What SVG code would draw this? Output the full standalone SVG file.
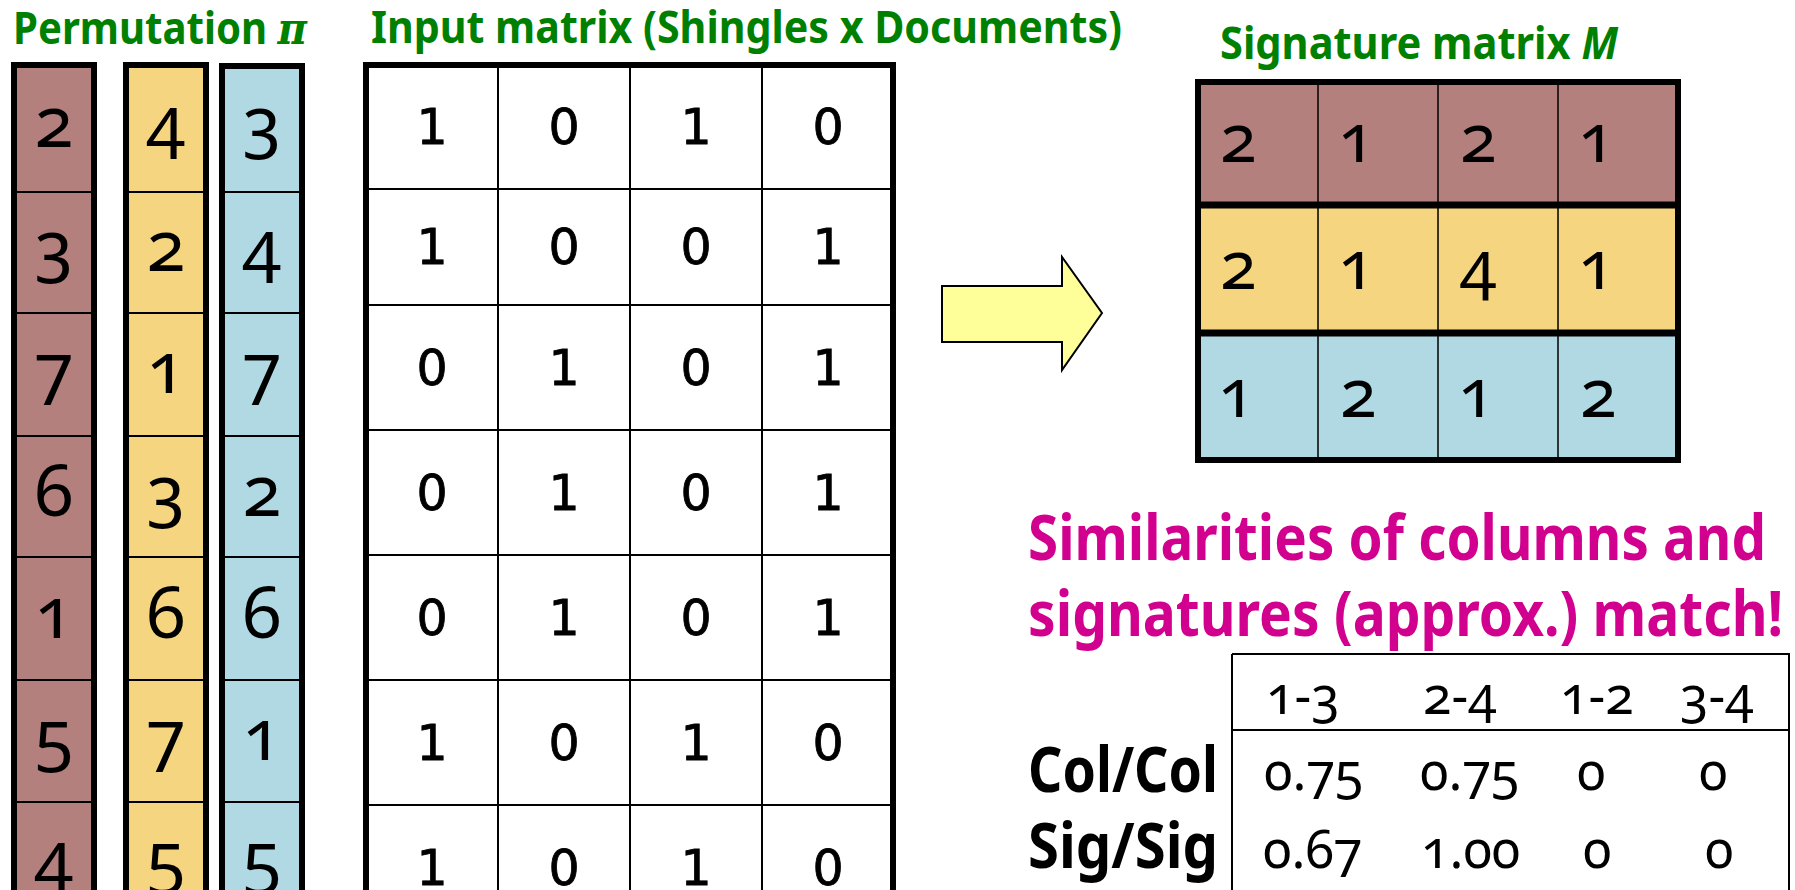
<svg xmlns="http://www.w3.org/2000/svg" width="1795" height="890" viewBox="0 0 1795 890">
<style>
.title{font-family:"Noto Sans","DejaVu Sans",sans-serif;font-weight:bold;fill:#008000;font-size:45px}
.pink{font-family:"Noto Sans","DejaVu Sans",sans-serif;font-weight:bold;fill:#D1008F;font-size:63px}
.lbl{font-family:"Noto Sans","DejaVu Sans",sans-serif;font-weight:bold;fill:#000;font-size:63px}
.pd{font-family:"Noto Sans","DejaVu Sans",sans-serif;font-size:71px;fill:#000;text-anchor:middle;font-variant-numeric:oldstyle-nums}
.sd{font-family:"Noto Sans","DejaVu Sans",sans-serif;font-size:67px;fill:#000;font-variant-numeric:oldstyle-nums}
.md{font-family:"DejaVu Sans",sans-serif;font-size:49px;fill:#000;stroke:#000;stroke-width:0.8;text-anchor:middle}
.td{font-family:"Noto Sans","DejaVu Sans",sans-serif;font-size:52px;fill:#000;font-variant-numeric:oldstyle-nums}
.thick{fill:none;stroke:#000;stroke-width:6}
.thin{stroke:#000;stroke-width:2;fill:none}
.brown{fill:#B4807E}
.yellow{fill:#F6D580}
.blue{fill:#B0D9E4}
</style>

<!-- Titles -->
<text class="title" x="13" y="44" textLength="294" lengthAdjust="spacingAndGlyphs">Permutation <tspan font-family="'DejaVu Serif',serif" font-style="italic">π</tspan></text>
<text class="title" x="371" y="43" textLength="751" lengthAdjust="spacingAndGlyphs">Input matrix (Shingles x Documents)</text>
<text class="title" x="1220" y="59" textLength="398" lengthAdjust="spacingAndGlyphs">Signature matrix <tspan font-style="italic">M</tspan></text>

<!-- Permutation columns -->
<g id="perm1">
  <rect class="brown" x="14" y="65" width="80" height="840"/>
  <path class="thin" d="M17 192H91M17 313H91M17 436H91M17 557H91M17 680H91M17 802H91"/>
  <rect class="thick" x="14" y="65" width="80" height="840"/>
  <text class="pd" x="54" y="147">2</text>
  <text class="pd" x="54" y="271">3</text>
  <text class="pd" x="54" y="393">7</text>
  <text class="pd" x="54" y="516">6</text>
  <text class="pd" x="54" y="638">1</text>
  <text class="pd" x="54" y="760">5</text>
  <text class="pd" x="54" y="882">4</text>
</g>
<g id="perm2">
  <rect class="yellow" x="126" y="65" width="80" height="840"/>
  <path class="thin" d="M129 192H203M129 313H203M129 436H203M129 557H203M129 680H203M129 802H203"/>
  <rect class="thick" x="126" y="65" width="80" height="840"/>
  <text class="pd" x="166" y="147">4</text>
  <text class="pd" x="166" y="271">2</text>
  <text class="pd" x="166" y="393">1</text>
  <text class="pd" x="166" y="516">3</text>
  <text class="pd" x="166" y="638">6</text>
  <text class="pd" x="166" y="760">7</text>
  <text class="pd" x="166" y="882">5</text>
</g>
<g id="perm3">
  <rect class="blue" x="222" y="66" width="80" height="840"/>
  <path class="thin" d="M225 192H299M225 313H299M225 436H299M225 557H299M225 680H299M225 802H299"/>
  <rect class="thick" x="222" y="66" width="80" height="840"/>
  <text class="pd" x="262" y="147">3</text>
  <text class="pd" x="262" y="271">4</text>
  <text class="pd" x="262" y="393">7</text>
  <text class="pd" x="262" y="516">2</text>
  <text class="pd" x="262" y="638">6</text>
  <text class="pd" x="262" y="760">1</text>
  <text class="pd" x="262" y="882">5</text>
</g>

<!-- Input matrix -->
<g id="input-matrix">
  <rect x="366" y="65" width="527" height="860" fill="#fff"/>
  <path class="thin" d="M498 65V890M630 65V890M762 65V890M366 189H893M366 305H893M366 430H893M366 555H893M366 680H893M366 805H893"/>
  <rect class="thick" x="366" y="65" width="527" height="860"/>
  <g class="md">
    <text x="432" y="144">1</text><text x="564" y="144">0</text><text x="696" y="144">1</text><text x="828" y="144">0</text>
    <text x="432" y="264">1</text><text x="564" y="264">0</text><text x="696" y="264">0</text><text x="828" y="264">1</text>
    <text x="432" y="385">0</text><text x="564" y="385">1</text><text x="696" y="385">0</text><text x="828" y="385">1</text>
    <text x="432" y="510">0</text><text x="564" y="510">1</text><text x="696" y="510">0</text><text x="828" y="510">1</text>
    <text x="432" y="635">0</text><text x="564" y="635">1</text><text x="696" y="635">0</text><text x="828" y="635">1</text>
    <text x="432" y="760">1</text><text x="564" y="760">0</text><text x="696" y="760">1</text><text x="828" y="760">0</text>
    <text x="432" y="885">1</text><text x="564" y="885">0</text><text x="696" y="885">1</text><text x="828" y="885">0</text>
  </g>
</g>

<!-- Arrow -->
<g id="arrow">
  <polygon points="942,286 1062,286 1062,257 1102,313 1062,370 1062,342 942,342" fill="#FFFF99" stroke="#000" stroke-width="2"/>
</g>

<!-- Signature matrix -->
<g id="signature-matrix">
  <rect class="brown" x="1198" y="82" width="480" height="123"/>
  <rect class="yellow" x="1198" y="205" width="480" height="128"/>
  <rect class="blue" x="1198" y="333" width="480" height="127"/>
  <path stroke="#000" stroke-width="1.5" d="M1318 82V460M1438 82V460M1558 82V460"/>
  <path stroke="#000" stroke-width="7" d="M1198 205H1678M1198 333H1678"/>
  <rect class="thick" x="1198" y="82" width="480" height="378"/>
  <g class="sd">
    <text x="1220" y="162">2</text><text x="1338" y="162">1</text><text x="1460" y="162">2</text><text x="1578" y="162">1</text>
    <text x="1220" y="289">2</text><text x="1338" y="289">1</text><text x="1460" y="289">4</text><text x="1578" y="289">1</text>
    <text x="1218" y="417">1</text><text x="1340" y="417">2</text><text x="1458" y="417">1</text><text x="1580" y="417">2</text>
  </g>
</g>

<!-- Similarities text -->
<text class="pink" x="1028" y="560" textLength="738" lengthAdjust="spacingAndGlyphs">Similarities of columns and</text>
<text class="pink" x="1028" y="636" textLength="755" lengthAdjust="spacingAndGlyphs">signatures (approx.) match!</text>

<!-- Similarity table -->
<g id="sim-table">
  <path class="thin" d="M1232 654H1789V890M1232 654V890M1232 730H1789"/>
  <g class="td">
    <text x="1266" y="714">1-3</text>
    <text x="1423" y="714">2-4</text>
    <text x="1560" y="714">1-2</text>
    <text x="1680" y="714">3-4</text>
    <text x="1264" y="790">0.75</text>
    <text x="1420" y="790">0.75</text>
    <text x="1577" y="790">0</text>
    <text x="1699" y="790">0</text>
    <text x="1263" y="868">0.67</text>
    <text x="1421" y="868">1.00</text>
    <text x="1583" y="868">0</text>
    <text x="1705" y="868">0</text>
  </g>
  <text class="lbl" x="1028" y="792" textLength="190" lengthAdjust="spacingAndGlyphs">Col/Col</text>
  <text class="lbl" x="1028" y="868" textLength="190" lengthAdjust="spacingAndGlyphs">Sig/Sig</text>
</g>
</svg>
